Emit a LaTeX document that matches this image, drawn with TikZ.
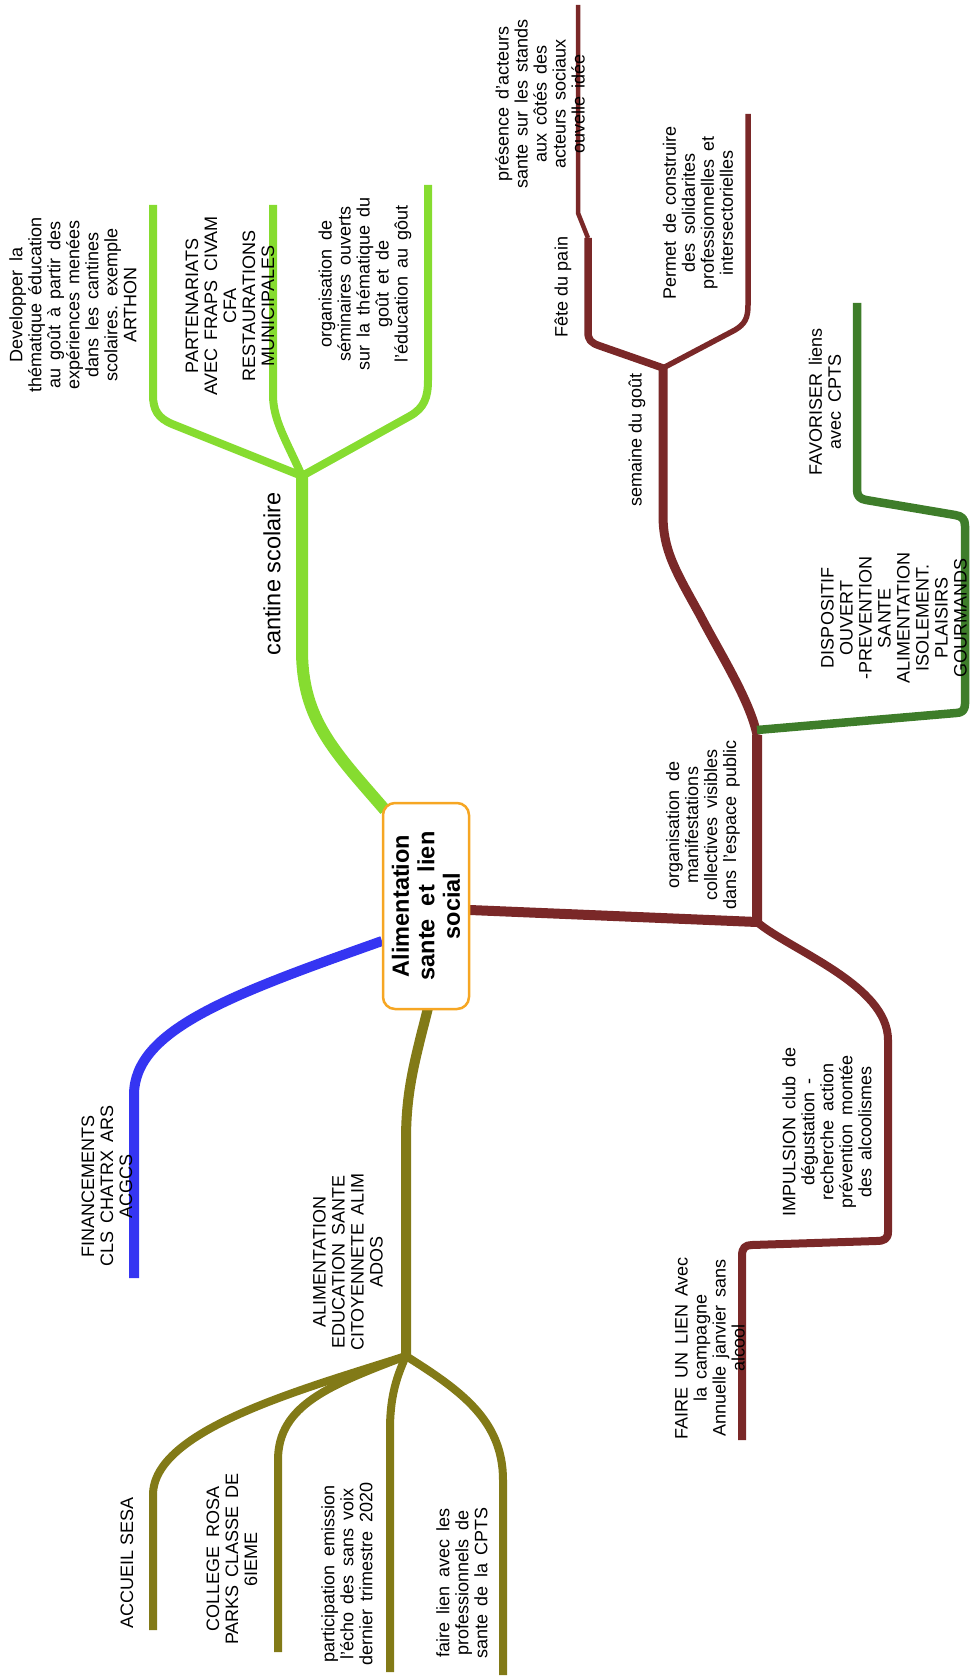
\documentclass[tikz,border=0pt]{standalone}
\usepackage{fontspec}
\setmainfont{Liberation Sans}
\definecolor{lgreen}{HTML}{86DC30}
\definecolor{brn}{HTML}{7A2828}
\definecolor{dgreen}{HTML}{3E7D2A}
\definecolor{blu}{HTML}{3535F2}
\definecolor{olv}{HTML}{827A17}
\definecolor{orng}{HTML}{F6A623}
\newcommand\widewordsp{\spaceskip=0.45em\relax}
\begin{document}
\begin{tikzpicture}[x=1pt,y=-1pt,
  lbl/.style={rotate=90,align=center,inner sep=0pt,font=\fontsize{18}{19}\selectfont,execute at begin node=\widewordsp},
  onelbl/.style={rotate=90,align=center,inner sep=0pt,font=\fontsize{18}{19}\selectfont},
  biglbl/.style={rotate=90,align=center,inner sep=0pt,font=\fontsize{23.5}{25}\selectfont},
  mainline/.style={line width=10pt,line join=round},
  subline/.style={line width=8pt,line join=round},
  thinline/.style={line width=4.5pt,line join=round},
  centerbox/.style={draw=orng,line width=2.5pt,rounded corners=12pt,fill=white,rotate=90,
    minimum width=206pt,minimum height=86pt,align=center,inner sep=0pt,
    font=\bfseries\fontsize{23.5}{25.5}\selectfont}]
\useasboundingbox (0,0) rectangle (971,1677);

% ---------- coordinates ----------
\coordinate (gS) at (385,810);
\coordinate (gF) at (302,476);
\coordinate (g1) at (153,205);
\coordinate (g2) at (273,205);
\coordinate (g3) at (428,185);
\coordinate (bS) at (470,910);
\coordinate (bJ) at (757,922);
\coordinate (bK) at (757,735);
\coordinate (bF) at (663,368);
\coordinate (bM) at (588,238);
\coordinate (b1) at (578,5);
\coordinate (b2) at (748,114);
\coordinate (b3) at (742,1440);
\coordinate (dgS) at (757,730);
\coordinate (dg1) at (857,303);
\coordinate (uS) at (382,941);
\coordinate (u1) at (134,1278);
\coordinate (oS) at (428,1008);
\coordinate (oF) at (406,1356);
\coordinate (o1) at (153,1630);
\coordinate (o2) at (278,1652);
\coordinate (o3) at (390,1672);
\coordinate (o4) at (503,1675);

% ---------- green : cantine scolaire ----------
\draw[lgreen,line width=12pt,line join=round] (gS) .. controls (335,752) and (302,720) .. (302,650) -- (gF);
\draw[lgreen,subline] (gF) -- (172,424) .. controls (158,418) and (153,410) .. (153,395) -- (g1);
\draw[lgreen,subline] (gF) .. controls (286,440) and (273,420) .. (273,395) -- (g2);
\draw[lgreen,subline] (gF) -- (410,416) .. controls (424,408) and (428,398) .. (428,380) -- (g3);

% ---------- brown ----------
\draw[brn,mainline] (bS) -- (bJ) -- (bK);
\draw[brn,line width=9pt,line join=round] (bK) .. controls (750,700) and (718,650) .. (700,615)
   .. controls (675,570) and (663,550) .. (663,515) -- (bF);
\draw[brn,line width=7.5pt,line join=round] (bF) -- (600,346) .. controls (591,343) and (588,340) .. (588,332) -- (bM);
\draw[brn,thinline] (bM) -- (578,213) -- (b1);
\draw[brn,line width=5.5pt,line join=round] (bF) -- (735,330) .. controls (745,324) and (748,318) .. (748,305) -- (b2);
\draw[brn,line width=8pt,line join=round] (bJ) .. controls (790,950) and (888,985) .. (888,1040) -- (888,1232)
   .. controls (888,1239) and (884,1241) .. (876,1241) -- (752,1245)
   .. controls (745,1245) and (742,1248) .. (742,1256) -- (b3);

% ---------- dark green ----------
\draw[dgreen,line width=8.5pt,line join=round] (dgS) -- (956,713) .. controls (962,713) and (965,710) .. (965,704)
   -- (965,526) .. controls (965,519) and (962,516) .. (955,515) -- (866,500)
   .. controls (860,499) and (857,496) .. (857,490) -- (dg1);

% ---------- blue ----------
\draw[blu,mainline] (uS) .. controls (230,995) and (134,1030) .. (134,1095) -- (u1);

% ---------- olive ----------
\draw[olv,mainline] (oS) .. controls (415,1060) and (406,1090) .. (406,1140) -- (oF);
\draw[olv,subline] (oF) .. controls (300,1390) and (153,1430) .. (153,1495) -- (o1);
\draw[olv,subline] (oF) .. controls (330,1385) and (278,1405) .. (278,1460) -- (o2);
\draw[olv,subline] (oF) .. controls (395,1380) and (390,1400) .. (390,1430) -- (o3);
\draw[olv,subline] (oF) .. controls (460,1390) and (503,1420) .. (503,1480) -- (o4);

% ---------- central node ----------
\node[centerbox] (c) at (426,906) {Alimentation\\sante \ et \ lien\\social};

% ---------- labels ----------
\node[lbl] (dev) at (73,305) {Developper la\\thématique éducation\\au goût à partir des\\expériences menées\\dans les cantines\\scolaires. exemple\\ARTHON};
\node[lbl] (part) at (230,306) {PARTENARIATS\\AVEC FRAPS CIVAM\\CFA\\RESTAURATIONS\\MUNICIPALES};
\node[lbl] (semi) at (365,284) {organisation de\\séminaires ouverts\\sur la thématique du\\goût et de\\l'éducation au gôut};
\node[biglbl] (cant) at (272,574) {cantine scolaire};
\node[lbl] (pres) at (540,104) {présence d'acteurs\\sante sur les stands\\aux côtés des\\acteurs sociaux\\ouvelle idée};
\node[onelbl] (fete) at (563,287) {Fête du pain};
\node[lbl] (perm) at (698,213) {Permet de construire\\des solidarites\\professionnelles et\\intersectorielles};
\node[onelbl] (sem) at (637,440) {semaine du goût};
\node[lbl] (fav) at (825,402) {FAVORISER liens\\avec CPTS};
\node[lbl] (disp) at (894,618) {DISPOSITIF\\OUVERT\\-PREVENTION\\SANTE\\ALIMENTATION\\ISOLEMENT.\\PLAISIRS\\GOURMANDS};
\node[lbl] (org) at (703,825) {organisation de\\manifestations\\collectives visibles\\dans l'espace public};
\node[lbl] (imp) at (827,1132) {IMPULSION club de\\dégustation -\\recherche action\\prévention montée\\des alcoolismes};
\node[lbl] (faire) at (710,1348) {FAIRE UN LIEN Avec\\la campagne\\Annuelle janvier sans\\alcool};
\node[lbl] (fin) at (107,1186) {FINANCEMENTS\\CLS CHATRX ARS\\ACGCS};
\node[lbl] (alim) at (348,1262) {ALIMENTATION\\EDUCATION SANTE\\CITOYENNETE ALIM\\ADOS};
\node[onelbl] (acc) at (127,1563) {ACCUEIL SESA};
\node[lbl] (coll) at (232,1559) {COLLEGE ROSA\\PARKS CLASSE DE\\6IEME};
\node[lbl] (part2) at (347,1574) {participation emission\\l'écho des sans voix\\dernier trimestre 2020};
\node[lbl] (fl) at (462,1583) {faire lien avec les\\professionnels de\\sante de la CPTS};
\end{tikzpicture}
\end{document}
